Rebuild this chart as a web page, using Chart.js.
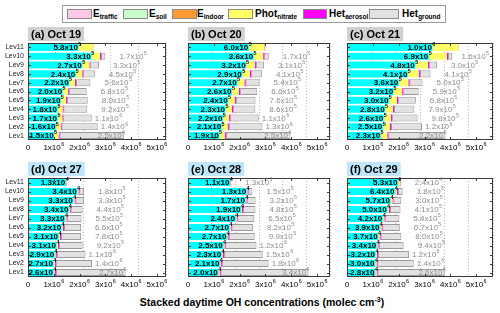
<!DOCTYPE html>
<html><head><meta charset="utf-8">
<script src="https://cdn.jsdelivr.net/npm/chart.js@4.4.1/dist/chart.umd.min.js"></script>
<style>
html,body{margin:0;padding:0;background:#fff;}
body{width:500px;height:313px;position:relative;overflow:hidden;font-family:"Liberation Sans",Arial,sans-serif;}
canvas.pan{position:absolute;left:0;top:0;}
#legend{position:absolute;left:62px;top:5px;width:382px;height:16px;border:1px solid #9a9a9a;background:#fff;}
.sw{position:absolute;top:3px;width:25px;height:10px;border:1px solid #8a8a8a;box-sizing:border-box;}
.lt{position:absolute;top:1px;font-weight:bold;font-size:10px;line-height:13px;color:#000;white-space:nowrap;}
.lt sub{font-size:6.5px;vertical-align:-2px;line-height:0;}
#xtitle{position:absolute;left:0;width:524px;top:296px;text-align:center;font-weight:bold;font-size:10.5px;line-height:13px;color:#000;white-space:nowrap;}
#xtitle sup{font-size:7px;vertical-align:4px;line-height:0;}
</style></head>
<body>
<div id="legend">
  <div class="sw" style="left:4px;background:#ffc8e8;"></div><div class="lt" style="left:30px;">E<sub>traffic</sub></div>
  <div class="sw" style="left:60px;background:#c8ffc8;"></div><div class="lt" style="left:86px;">E<sub>soil</sub></div>
  <div class="sw" style="left:109px;background:#ff9a33;"></div><div class="lt" style="left:134px;">E<sub>indoor</sub></div>
  <div class="sw" style="left:165px;background:#ffff66;"></div><div class="lt" style="left:192px;">Phot<sub>nitrate</sub></div>
  <div class="sw" style="left:240px;width:24px;background:#ff00ff;"></div><div class="lt" style="left:266px;">Het<sub>aerosol</sub></div>
  <div class="sw" style="left:306px;width:30px;background:#e2e2e2;"></div><div class="lt" style="left:339px;">Het<sub>ground</sub></div>
</div>
<div id="xtitle">Stacked daytime OH concentrations (molec cm<sup>-3</sup>)</div>
<script>
// ---------------- DATA ----------------
const levels = ['Lev11','Lev10','Lev9','Lev8','Lev7','Lev6','Lev5','Lev4','Lev3','Lev2','Lev1'];
const panelTitles = ['(a) Oct 19','(b) Oct 20','(c) Oct 21','(d) Oct 27','(e) Oct 28','(f) Oct 29'];
const xTickValues = [0, 1e6, 2e6, 3e6, 4e6, 5e6];
const seriesNames = ['Others','E_traffic','E_soil','E_indoor','Phot_nitrate','Het_aerosol','Het_ground'];

// small emission terms (top row = Oct 19-21, bottom row = Oct 27-29)
const eTrafficTop    = [2e3,3e3,3e3,4e3,4e3,5e3,5e3,6e3,7e3,8e3,1.0e4];
const eSoilTop       = [1e3,2e3,2e3,2e3,3e3,3e3,3e3,4e3,4e3,5e3,6e3];
const eIndoorTop     = [4e3,5e3,5e3,6e3,6e3,7e3,7e3,8e3,9e3,1.0e4,1.2e4];
const eTrafficBottom = [3e3,4e3,4e3,5e3,5e3,6e3,6e3,7e3,8e3,9e3,1.1e4];
const eSoilBottom    = [2e3,2e3,3e3,3e3,3e3,4e3,4e3,4e3,5e3,5e3,6e3];
const eIndoorBottom  = [1.2e4,1.5e4,1.5e4,1.5e4,1.6e4,1.6e4,1.7e4,1.7e4,1.8e4,1.9e4,2.0e4];

// Oct 19
const othersOct19      = [1.95e6,2.45e6,2.10e6,1.85e6,1.59e6,1.34e6,1.27e6,1.14e6,1.14e6,1.08e6,1.01e6];
const photNitrateOct19 = [5.8e5,3.3e5,2.7e5,2.4e5,2.2e5,2.0e5,1.9e5,1.8e5,1.7e5,1.6e5,1.5e5];
const hetAerosolOct19  = [1e4,4e4,4e4,4e4,4e4,4e4,4e4,4e4,4e4,4e4,4e4];
const hetGroundOct19   = [0,1.7e5,3.3e5,4.5e5,5.6e5,6.8e5,8.0e5,9.2e5,1.1e6,1.4e6,2.5e6];
// Oct 20
const othersOct20      = [2.35e6,2.54e6,2.25e6,2.10e6,1.90e6,1.70e6,1.55e6,1.45e6,1.35e6,1.30e6,1.20e6];
const photNitrateOct20 = [6.0e5,3.6e5,3.2e5,2.9e5,2.7e5,2.6e5,2.4e5,2.3e5,2.2e5,2.1e5,1.9e5];
const hetAerosolOct20  = [2e4,5e4,5e4,5e4,5e4,5e4,5e4,5e4,5e4,5e4,5e4];
const hetGroundOct20   = [0,1.7e5,3.1e5,4.1e5,5.4e5,6.6e5,7.6e5,8.6e5,1.1e6,1.3e6,2.5e6];
// Oct 21
const othersOct21      = [3.30e6,3.16e6,2.64e6,2.35e6,2.00e6,1.80e6,1.62e6,1.47e6,1.42e6,1.38e6,1.30e6];
const photNitrateOct21 = [1.0e6,6.9e5,4.8e5,4.1e5,3.6e5,3.2e5,3.0e5,2.8e5,2.6e5,2.5e5,2.3e5];
const hetAerosolOct21  = [1e4,5e4,5e4,5e4,5e4,5e4,5e4,5e4,5e4,5e4,5e4];
const hetGroundOct21   = [0,1.6e5,3.0e5,4.1e5,5.0e5,5.9e5,6.8e5,7.9e5,9.8e5,1.2e6,2.2e6];
// Oct 27
const othersOct27      = [1.46e6,1.90e6,1.75e6,1.58e6,1.43e6,1.30e6,1.18e6,1.10e6,1.03e6,0.98e6,0.98e6];
const photNitrateOct27 = [1.3e4,3.4e4,3.3e4,3.4e4,3.3e4,3.2e4,3.1e4,3.1e4,2.9e4,2.7e4,2.6e4];
const hetAerosolOct27  = [2e4,4e4,4e4,4e4,4e4,4e4,4e4,4e4,4e4,4e4,4e4];
const hetGroundOct27   = [0,1.8e5,3.3e5,4.4e5,5.5e5,6.6e5,7.8e5,9.2e5,1.1e6,1.4e6,2.7e6];
// Oct 28
const othersOct28      = [1.62e6,2.27e6,2.22e6,2.05e6,1.83e6,1.60e6,1.50e6,1.36e6,1.30e6,1.23e6,1.17e6];
const photNitrateOct28 = [1.1e4,1.3e4,1.7e4,1.9e4,2.4e4,2.7e4,2.7e4,2.5e4,2.3e4,2.1e4,2.0e4];
const hetAerosolOct28  = [2e4,4e4,4e4,4e4,4e4,4e4,4e4,4e4,4e4,4e4,4e4];
const hetGroundOct28   = [1.3e3,1.5e5,3.2e5,4.8e5,6.5e5,8.2e5,9.9e5,1.2e6,1.5e6,1.8e6,3.4e6];
// Oct 29
const othersOct29      = [1.97e6,1.85e6,1.68e6,1.55e6,1.38e6,1.27e6,1.20e6,1.15e6,1.10e6,1.08e6,1.08e6];
const photNitrateOct29 = [5.3e4,6.4e4,5.7e4,5.0e4,4.2e4,3.9e4,3.7e4,3.4e4,3.2e4,3.0e4,2.8e4];
const hetAerosolOct29  = [2e4,4e4,4e4,4e4,4e4,4e4,4e4,4e4,4e4,4e4,4e4];
const hetGroundOct29   = [2.4e4,1.8e5,3.0e5,4.1e5,5.4e5,6.7e5,8.0e5,9.4e5,1.2e6,1.4e6,2.6e6];

// ---------------- LAYOUT / STYLE ----------------
const FONT = '"Liberation Sans", Arial, sans-serif';
const colors = ['#00ffff','#ffc8e8','#c8ffc8','#ff9a33','#ffff66','#ff00ff','#e2e2e2'];
const borders = ['rgba(0,0,0,0)','#d090b0','#90d090','#cc7020','#c8c840','#c000c0','#9a9a9a'];

const panels = [
  {title:panelTitles[0], row:0, box:[28,43,166,140], xmax:5.35e6, yLab:true,
   s:[othersOct19,eTrafficTop,eSoilTop,eIndoorTop,photNitrateOct19,hetAerosolOct19,hetGroundOct19]},
  {title:panelTitles[1], row:0, box:[188,43,330,140], xmax:5.5e6, yLab:false,
   s:[othersOct20,eTrafficTop,eSoilTop,eIndoorTop,photNitrateOct20,hetAerosolOct20,hetGroundOct20]},
  {title:panelTitles[2], row:0, box:[347,43,493,140], xmax:5.65e6, yLab:false,
   s:[othersOct21,eTrafficTop,eSoilTop,eIndoorTop,photNitrateOct21,hetAerosolOct21,hetGroundOct21]},
  {title:panelTitles[3], row:1, box:[28,178,166,277], xmax:5.35e6, yLab:true,
   s:[othersOct27,eTrafficBottom,eSoilBottom,eIndoorBottom,photNitrateOct27,hetAerosolOct27,hetGroundOct27]},
  {title:panelTitles[4], row:1, box:[188,178,330,277], xmax:5.5e6, yLab:false,
   s:[othersOct28,eTrafficBottom,eSoilBottom,eIndoorBottom,photNitrateOct28,hetAerosolOct28,hetGroundOct28]},
  {title:panelTitles[5], row:1, box:[347,178,493,277], xmax:5.65e6, yLab:false,
   s:[othersOct29,eTrafficBottom,eSoilBottom,eIndoorBottom,photNitrateOct29,hetAerosolOct29,hetGroundOct29]}
];

function sci(v){
  const e = Math.floor(Math.log10(v) + 1e-9);
  const m = v / Math.pow(10, e);
  return [m.toFixed(1) + 'x10', String(e)];
}
function measureSup(ctx, main, exp, bold, size){
  ctx.font = (bold ? 'bold ' : '') + size + 'px ' + FONT; const w1 = ctx.measureText(main).width;
  ctx.font = (bold ? 'bold ' : '') + (size * 0.68).toFixed(1) + 'px ' + FONT;
  const w2 = exp ? ctx.measureText(exp).width + 0.4 : 0;
  return w1 + w2;
}
function drawSup(ctx, main, exp, x, y, align, bold, size, color){
  const f1 = (bold ? 'bold ' : '') + size + 'px ' + FONT;
  const f2 = (bold ? 'bold ' : '') + (size * 0.68).toFixed(1) + 'px ' + FONT;
  ctx.font = f1; const w1 = ctx.measureText(main).width;
  ctx.font = f2; const w2 = exp ? ctx.measureText(exp).width + 0.4 : 0;
  const W = w1 + w2;
  const x0 = align === 'right' ? x - W : (align === 'center' ? x - W / 2 : x);
  ctx.fillStyle = color; ctx.textBaseline = 'middle'; ctx.textAlign = 'left';
  ctx.font = f1; ctx.fillText(main, x0, y);
  if (exp) { ctx.font = f2; ctx.fillText(exp, x0 + w1 + 0.4, y - size * 0.4); }
  return W;
}

function makeDecor(p){
  return {
    id: 'decor',
    afterDatasetsDraw(chart){
      const ctx = chart.ctx, ca = chart.chartArea, x = chart.scales.x, y = chart.scales.y;
      ctx.save();
      // frame
      ctx.strokeStyle = '#3a3a3a'; ctx.lineWidth = 1;
      ctx.strokeRect(Math.round(ca.left) + 0.5, Math.round(ca.top) + 0.5, Math.round(ca.width) - 1, Math.round(ca.height) - 1);
      // inner ticks
      ctx.beginPath();
      xTickValues.forEach(v => {
        const px = Math.round(x.getPixelForValue(v)) + 0.5;
        ctx.moveTo(px, ca.bottom); ctx.lineTo(px, ca.bottom - 3);
        ctx.moveTo(px, ca.top); ctx.lineTo(px, ca.top + 3);
      });
      levels.forEach((l, i) => {
        const py = Math.round(y.getPixelForValue(i)) + 0.5;
        ctx.moveTo(ca.left, py); ctx.lineTo(ca.left + 3, py);
        ctx.moveTo(ca.right, py); ctx.lineTo(ca.right - 3, py);
      });
      ctx.stroke();
      // x tick labels
      xTickValues.forEach(v => {
        const px = x.getPixelForValue(v);
        if (v === 0) drawSup(ctx, '0', '', px, ca.bottom + 8, 'center', false, 8, '#000');
        else drawSup(ctx, String(Math.round(v / 1e6)) + 'x10', '6', px, ca.bottom + 8, 'center', false, 8, '#000');
      });
      // y labels
      if (p.yLab) {
        ctx.font = '7px ' + FONT; ctx.fillStyle = '#222'; ctx.textAlign = 'right'; ctx.textBaseline = 'middle';
        levels.forEach((l, i) => ctx.fillText(l, ca.left - 4, y.getPixelForValue(i)));
      }
      // value labels
      levels.forEach((l, i) => {
        const yc = y.getPixelForValue(i) + 0.5;
        const base = p.s[0][i];
        const phot = p.s[4][i];
        const pxBase = x.getPixelForValue(base);
        const a = sci(phot);
        drawSup(ctx, a[0], a[1], pxBase + 3, yc, 'right', true, 8, '#000');
        const g = p.s[6][i];
        if (g > 0) {
          let total = 0; p.s.forEach(arr => total += arr[i]);
          const pxEnd = x.getPixelForValue(total);
          const b = sci(g);
          const W = measureSup(ctx, b[0], b[1], false, 8);
          if (g >= 2e6) drawSup(ctx, b[0], b[1], pxEnd + 1, yc, 'right', false, 8, '#8c8c8c');
          else {
            let left = g >= 1e6 ? pxEnd + 3 : pxEnd + 14;
            left = Math.min(left, ca.right - W - 4);
            drawSup(ctx, b[0], b[1], left, yc, 'left', false, 8, '#8c8c8c');
          }
        }
      });
      // title box
      ctx.font = 'bold 11px ' + FONT;
      const tw = ctx.measureText(p.title).width;
      ctx.fillStyle = p.row === 0 ? '#d0d0d0' : '#bfe6fa';
      ctx.fillRect(ca.left, ca.top - 16, tw + 6, 14);
      ctx.fillStyle = '#000'; ctx.textAlign = 'left'; ctx.textBaseline = 'middle';
      ctx.fillText(p.title, ca.left + 3, ca.top - 8.5);
      ctx.restore();
    }
  };
}

panels.forEach((p, k) => {
  const cv = document.createElement('canvas');
  cv.className = 'pan'; cv.width = 500; cv.height = 313;
  cv.style.width = '500px'; cv.style.height = '313px';
  document.body.appendChild(cv);
  const datasets = p.s.map((arr, j) => ({
    label: seriesNames[j], data: arr,
    backgroundColor: colors[j], borderColor: borders[j],
    borderWidth: j === 6 ? 1 : 0, borderSkipped: false,
    barPercentage: 0.8, categoryPercentage: 1.0
  }));
  new Chart(cv, {
    type: 'bar',
    data: { labels: levels, datasets },
    options: {
      responsive: false, animation: false, indexAxis: 'y', devicePixelRatio: 1,
      layout: { padding: { left: p.box[0], top: p.box[1], right: 500 - p.box[2], bottom: 313 - p.box[3] } },
      plugins: { legend: { display: false }, tooltip: { enabled: false } },
      events: [],
      scales: {
        x: { stacked: true, min: 0, max: p.xmax,
             ticks: { display: false, stepSize: 1e6, includeBounds: false },
             grid: { color: '#b8b8b8', lineWidth: 1, drawTicks: false },
             border: { display: false, dash: [1, 2] } },
        y: { stacked: true, display: false }
      }
    },
    plugins: [makeDecor(p)]
  });
});
</script>
</body></html>
